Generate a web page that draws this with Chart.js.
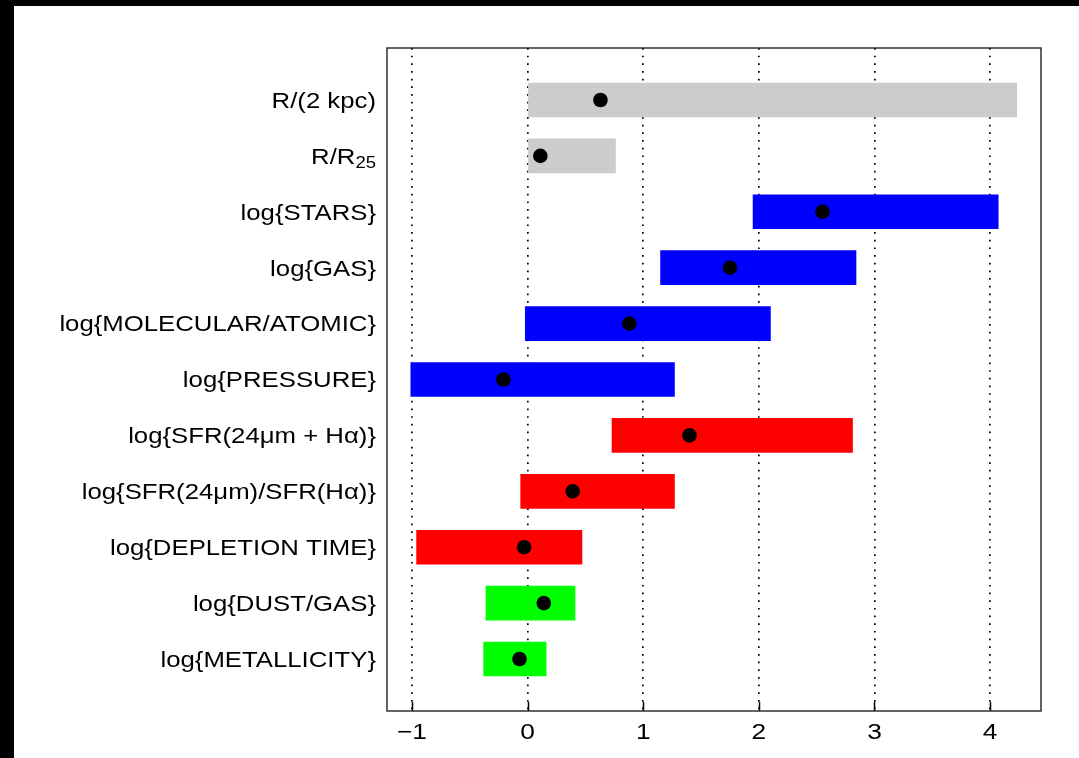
<!DOCTYPE html>
<html>
<head>
<meta charset="utf-8">
<script src="https://cdn.jsdelivr.net/npm/chart.js@4.4.0/dist/chart.umd.min.js"></script>
<style>
    html, body { margin: 0; padding: 0; background: #000; }
    .chart-container { position: absolute; left: 14px; top: 6px; width: 1065px; height: 752px; background: #fff; }
</style>
</head>
<body>
<div class="chart-container">
    <canvas id="rangeChart" width="1065" height="752"></canvas>
</div>
<script>
// quantities, top to bottom ("_{..}" marks a subscript)
const labels = [
    'R/(2 kpc)',
    'R/R_{25}',
    'log{STARS}',
    'log{GAS}',
    'log{MOLECULAR/ATOMIC}',
    'log{PRESSURE}',
    'log{SFR(24\u03bcm + H\u03b1)}',
    'log{SFR(24\u03bcm)/SFR(H\u03b1)}',
    'log{DEPLETION TIME}',
    'log{DUST/GAS}',
    'log{METALLICITY}',
];
const rangeLow  = [0.00, 0.00, 1.95, 1.15, -0.02, -1.01, 0.73, -0.06, -0.96, -0.36, -0.38];
const rangeHigh = [4.23, 0.76, 4.07, 2.84, 2.10, 1.27, 2.81, 1.27, 0.47, 0.41, 0.16];
const typical   = [0.63, 0.11, 2.55, 1.75, 0.88, -0.21, 1.40, 0.39, -0.03, 0.14, -0.07];
const groupColors = ['#cccccc', '#cccccc', '#0000ff', '#0000ff', '#0000ff', '#0000ff',
                     '#ff0000', '#ff0000', '#ff0000', '#00ff00', '#00ff00'];
const xTicks = [-1, 0, 1, 2, 3, 4];

const FONT = "'Liberation Sans', Arial, Helvetica, sans-serif";
const STRETCH = 1.17; // the original lettering is a little wide

// split 'R/R_{25}' into plain and subscript pieces
const splitLabel = (s) => {
    const parts = [];
    const re = /_\{([^}]*)\}/g;
    let last = 0, m;
    while ((m = re.exec(s)) !== null) {
        if (m.index > last) parts.push({ t: s.slice(last, m.index), sub: false });
        parts.push({ t: m[1], sub: true });
        last = re.lastIndex;
    }
    if (last < s.length) parts.push({ t: s.slice(last), sub: false });
    return parts;
};

// axis lettering, the frame and the short solid ticks at the bottom
const framePlugin = {
    id: 'frame',
    afterDraw(chart) {
        const { ctx, chartArea: a, scales } = chart;
        ctx.save();
        ctx.fillStyle = '#000';

        // y labels
        const size = 22;
        labels.forEach((lab, i) => {
            const py = scales.y.getPixelForValue(i);
            const parts = splitLabel(lab);
            const fontFor = p => (p.sub ? size * 0.72 : size) + 'px ' + FONT;
            let w = 0;
            parts.forEach(p => { ctx.font = fontFor(p); w += ctx.measureText(p.t).width; });
            ctx.save();
            ctx.translate(a.left - 11, py);
            ctx.scale(STRETCH, 1);
            ctx.textAlign = 'left';
            ctx.textBaseline = 'alphabetic';
            let x = -w;
            parts.forEach(p => {
                ctx.font = fontFor(p);
                ctx.fillText(p.t, x, p.sub ? 12.5 : 7.9);
                x += ctx.measureText(p.t).width;
            });
            ctx.restore();
        });

        // x labels
        xTicks.forEach(v => {
            const px = scales.x.getPixelForValue(v);
            ctx.save();
            ctx.translate(px, a.bottom + 27.5);
            ctx.scale(STRETCH, 1);
            ctx.font = '22.5px ' + FONT;
            ctx.textAlign = 'center';
            ctx.textBaseline = 'alphabetic';
            ctx.fillText(v < 0 ? '\u2212' + Math.abs(v) : String(v), 0, 0);
            ctx.restore();
        });

        ctx.strokeStyle = '#000';
        ctx.lineWidth = 1.5;
        xTicks.forEach(v => {
            const px = Math.round(scales.x.getPixelForValue(v)) + 0.5;
            ctx.beginPath();
            ctx.moveTo(px, a.bottom);
            ctx.lineTo(px, a.bottom - 9);
            ctx.stroke();
        });
        ctx.strokeStyle = '#222';
        ctx.lineWidth = 1.4;
        ctx.strokeRect(a.left, a.top, a.right - a.left, a.bottom - a.top);
        ctx.restore();
    }
};

new Chart(document.getElementById('rangeChart'), {
    data: {
        datasets: [
            {
                type: 'scatter',
                data: typical.map((v, i) => ({ x: v, y: i })),
                pointRadius: 7.3,
                pointHoverRadius: 7.3,
                backgroundColor: '#000',
                borderWidth: 0,
            },
            {
                type: 'bar',
                data: rangeLow.map((v, i) => ({ x: [v, rangeHigh[i]], y: i })),
                backgroundColor: groupColors,
                borderWidth: 0,
                barThickness: 34,
                grouped: false,
            },
        ],
    },
    options: {
        indexAxis: 'y',
        responsive: false,
        animation: false,
        layout: { padding: { top: 42, right: 38, left: 0, bottom: 0 } },
        plugins: { legend: { display: false }, tooltip: { enabled: false } },
        scales: {
            x: {
                type: 'linear',
                min: -1.216,
                max: 4.44,
                offset: false,
                afterBuildTicks: scale => { scale.ticks = xTicks.map(v => ({ value: v })); },
                afterFit: scale => { scale.height = 47; },
                border: { display: false, dash: [1.7, 5.97] },
                grid: {
                    color: '#000',
                    lineWidth: 1.7,
                    drawTicks: false,
                },
                ticks: { display: false },
            },
            y: {
                type: 'linear',
                reverse: true,
                offset: false,
                min: -0.93,
                max: 10.93,
                afterBuildTicks: scale => { scale.ticks = labels.map((l, i) => ({ value: i })); },
                afterFit: scale => { scale.width = 373; },
                border: { display: false },
                grid: { display: false, drawTicks: false },
                ticks: { display: false },
            },
        },
    },
    plugins: [framePlugin],
});
</script>
</body>
</html>
